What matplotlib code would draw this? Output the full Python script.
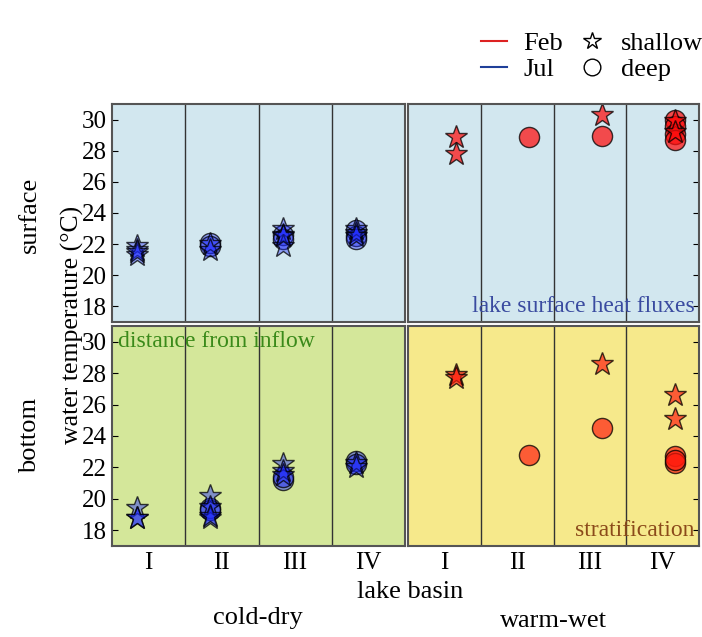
import matplotlib
matplotlib.use('Agg')
import matplotlib.pyplot as plt
from matplotlib.lines import Line2D

plt.rcParams['font.family'] = ['Liberation Serif', 'DejaVu Serif']
plt.rcParams['mathtext.fontset'] = 'stix'

basins = ['I', 'II', 'III', 'IV']

# Jul (cold-dry) values per basin: shallow (stars) / deep (circles)
jul_surf_shallow = [[21.9, 21.6, 21.3, 21.5], [22.0, 21.6], [23.0, 22.6, 21.9, 22.5], [23.0, 22.7, 22.5]]
jul_surf_deep = [[], [22.05, 21.9], [22.6, 22.3], [22.9, 22.5, 22.3]]
jul_bot_shallow = [[19.4, 18.8, 18.8], [20.2, 19.5, 18.8, 18.9], [22.2, 21.8, 21.5], [22.3, 22.0]]
jul_bot_deep = [[], [19.4, 19.3], [21.2, 21.4], [22.4, 22.2]]

# Feb (warm-wet) values per basin
feb_surf_shallow = [[28.9, 27.8], [], [30.3], [29.9, 29.2]]
feb_surf_deep = [[], [28.85], [28.95], [30.0, 29.6, 29.1, 28.7]]
feb_bot_shallow = [[27.9, 27.7], [], [28.6], [26.6, 25.1]]
feb_bot_deep = [[], [22.8], [24.5], [22.7, 22.3, 22.5]]

W, H = 702, 637
fig = plt.figure(figsize=(W / 100, H / 100), dpi=100)


def px_axes(x0, y0, x1, y1):
    return fig.add_axes([x0 / W, 1 - y1 / H, (x1 - x0) / W, (y1 - y0) / H])


panels = [
    # box, bg, shallow, deep, face rgba, offset, side, bottom
    ((112, 104, 405, 322), '#d2e7ef', jul_surf_shallow, jul_surf_deep, (0.1, 0.15, 1.0, 0.38), -0.165, 'left', False),
    ((408, 104, 699, 322), '#d2e7ef', feb_surf_shallow, feb_surf_deep, (1.0, 0.05, 0.05, 0.72), 0.165, 'right', False),
    ((112, 326, 405, 546), '#d4e79a', jul_bot_shallow, jul_bot_deep, (0.1, 0.15, 1.0, 0.45), -0.165, 'left', True),
    ((408, 326, 699, 546), '#f6e98b', feb_bot_shallow, feb_bot_deep, (1.0, 0.1, 0.05, 0.68), 0.165, 'right', True),
]

axes = []
for box, bg, shallow, deep, face, off, side, bottom in panels:
    ax = px_axes(*box)
    ax.set_facecolor(bg)
    for i in range(4):
        xs = [i + 0.5 + off] * len(deep[i])
        ax.plot(xs, deep[i], 'o', ms=14.5, mfc=face, mec=(0, 0, 0, 0.75), mew=1.0, ls='none')
        xs = [i + 0.5 + off] * len(shallow[i])
        ax.plot(xs, shallow[i], '*', ms=17, mfc=face, mec=(0, 0, 0, 0.75), mew=1.0, ls='none')
    for xv in (1, 2, 3):
        ax.axvline(xv, color='#333333', lw=1.0)
    ax.set_xlim(0, 4)
    ax.set_ylim(17, 31)
    ax.set_yticks([18, 20, 22, 24, 26, 28, 30])
    for s in ax.spines.values():
        s.set_color('#555555')
        s.set_linewidth(1.5)
    if side == 'left':
        ax.tick_params(axis='y', direction='in', length=4, labelsize=18, pad=4, left=True, right=False)
    else:
        ax.tick_params(axis='y', direction='in', length=4, left=False, right=True,
                       labelleft=False, labelright=False)
    ax.set_xticks([0.5, 1.5, 2.5, 3.5])
    if bottom:
        ax.set_xticklabels(basins)
        ax.tick_params(axis='x', length=0, labelsize=18, pad=4)
    else:
        ax.tick_params(axis='x', length=0, labelbottom=False)
    axes.append(ax)

axes[1].text(0.985, 18, 'lake surface heat fluxes', transform=axes[1].get_yaxis_transform(),
             ha='right', va='center', fontsize=17, color='#3a4ba0')
axes[2].text(0.02, 30, 'distance from inflow', transform=axes[2].get_yaxis_transform(),
             ha='left', va='center', fontsize=17, color='#3a8a1a')
axes[3].text(0.985, 18, 'stratification', transform=axes[3].get_yaxis_transform(),
             ha='right', va='center', fontsize=17, color='#8b4a1a')

fig.text(72 / W, 1 - 325 / H, 'water temperature (°C)', rotation=90, ha='center', va='center', fontsize=18.5)
fig.text(30 / W, 1 - 215 / H, 'surface', rotation=90, ha='center', va='center', fontsize=19)
fig.text(30 / W, 1 - 435 / H, 'bottom', rotation=90, ha='center', va='center', fontsize=19)
fig.text(410 / W, 1 - 592 / H, 'lake basin', ha='center', va='center', fontsize=19)
fig.text(258 / W, 1 - 618 / H, 'cold-dry', ha='center', va='center', fontsize=19)
fig.text(553 / W, 1 - 621 / H, 'warm-wet', ha='center', va='center', fontsize=19)

handles = [
    Line2D([], [], color='#dd2222', lw=1.5, label='Feb'),
    Line2D([], [], color='#1f3f99', lw=1.5, label='Jul'),
    Line2D([], [], marker='*', ls='none', mfc='none', mec='black', ms=13, label='shallow'),
    Line2D([], [], marker='o', ls='none', mfc='none', mec='black', ms=12, label='deep'),
]
fig.legend(handles=handles, ncol=2, loc='upper right', bbox_to_anchor=(727 / W, 1 - 8 / H),
           frameon=False, fontsize=19, handlelength=1.0, handletextpad=0.6,
           columnspacing=0.6, labelspacing=0.1)

fig.savefig('out.png', dpi=100)
